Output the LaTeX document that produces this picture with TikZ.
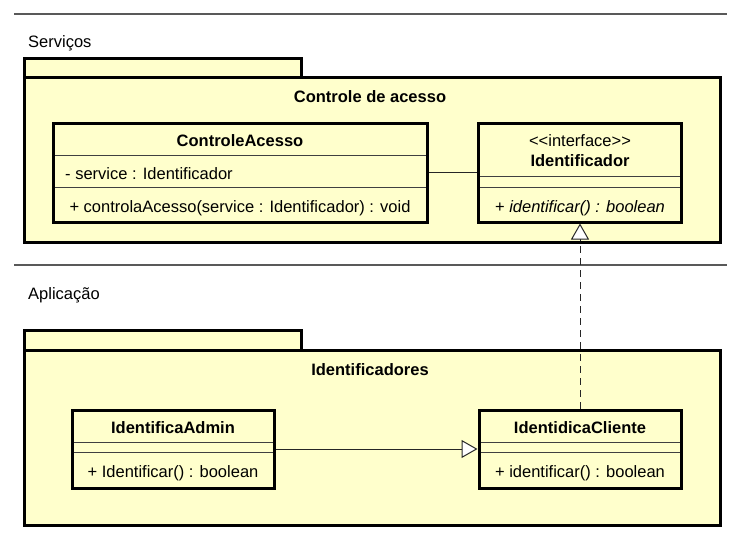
\documentclass[tikz,border=0pt]{standalone}
\usepackage{fontspec}
\setmainfont{Liberation Sans}
\usetikzlibrary{arrows.meta}
\definecolor{umlyellow}{HTML}{FFFFCC}

\begin{document}
\begin{tikzpicture}[x=1pt,y=-1pt,
	box/.style={draw, line width=3pt, fill=umlyellow, inner sep=0pt},
	txt/.style={inner sep=0pt, anchor=base, font=\fontsize{16.5}{19}\selectfont},
	sep/.style={black!75, line width=0.8pt, shorten <=3pt, shorten >=3pt},
	rule/.style={black!65, line width=1.2pt},
	link/.style={black!85, line width=1pt},
	hollow/.style={-{Triangle[length=16pt, width=18pt, fill=white]}}]
\useasboundingbox (0,0) rectangle (741,540);

\draw [rule] (14,14) -- (727,14);
\node [txt, anchor=base west] (servicos) at (28,48) {Serviços};
\node [box, minimum width=277, minimum height=19.5] (tabA) at (163,68.25) {};
\node [box, minimum width=696, minimum height=164.5] (pkgA) at (372.5,160.25) {};
\node [txt] (pkgAname) at (370,103) {\bfseries Controle de acesso};

\node [box, minimum width=374, minimum height=98.5] (ctrl) at (240,172.75) {};
	\node [txt] (ctrlname) at (240,146.5) {\bfseries ControleAcesso};
	\draw [sep] ([yshift=-33pt]ctrl.north west) -- ([yshift=-33pt]ctrl.north east);
	\node [txt, anchor=base west] (ctrlattr) at (65,179.5) {- service : Identificador};
	\draw [sep] ([yshift=-65pt]ctrl.north west) -- ([yshift=-65pt]ctrl.north east);
	\node [txt] (ctrlop) at (240,212) {+ controlaAcesso(service : Identificador) : void};

\node [box, minimum width=203, minimum height=98.5] (ident) at (580,172.75) {};
	\node [txt] (identstereo) at (580,147) {{<}{<}interface{>}{>}};
	\node [txt] (identname) at (580,167) {\bfseries Identificador};
	\draw [sep] ([yshift=-54pt]ident.north west) -- ([yshift=-54pt]ident.north east);
	\draw [sep] ([yshift=-65pt]ident.north west) -- ([yshift=-65pt]ident.north east);
	\node [txt] (identop) at (580,212) {+ \itshape identificar() : boolean};

\draw [rule] (14,265) -- (727,265);
\node [txt, anchor=base west] (aplicacao) at (28,299) {Aplicação};
\node [box, minimum width=277, minimum height=19.5] (tabB) at (163,340.25) {};
\node [box, minimum width=696, minimum height=175] (pkgB) at (372.5,437.5) {};
\node [txt] (pkgBname) at (370,375) {\bfseries Identificadores};

\node [box, minimum width=202, minimum height=78] (admin) at (173,449) {};
	\node [txt] (adminname) at (173,433) {\bfseries IdentificaAdmin};
	\draw [sep] ([yshift=-33.5pt]admin.north west) -- ([yshift=-33.5pt]admin.north east);
	\draw [sep] ([yshift=-43.5pt]admin.north west) -- ([yshift=-43.5pt]admin.north east);
	\node [txt] (adminop) at (173,477) {+ Identificar() : boolean};

\node [box, minimum width=202, minimum height=78] (cliente) at (580,449) {};
	\node [txt] (clientename) at (580,433) {\bfseries IdentidicaCliente};
	\draw [sep] ([yshift=-33.5pt]cliente.north west) -- ([yshift=-33.5pt]cliente.north east);
	\draw [sep] ([yshift=-43.5pt]cliente.north west) -- ([yshift=-43.5pt]cliente.north east);
	\node [txt] (clienteop) at (580,477) {+ identificar() : boolean};

\draw [link] (ctrl) -- (ident);
\draw [link, hollow] (admin) -- (cliente);
\draw [link, hollow, dash pattern=on 7pt off 5pt] (cliente) -- (ident);
\end{tikzpicture}
\end{document}
